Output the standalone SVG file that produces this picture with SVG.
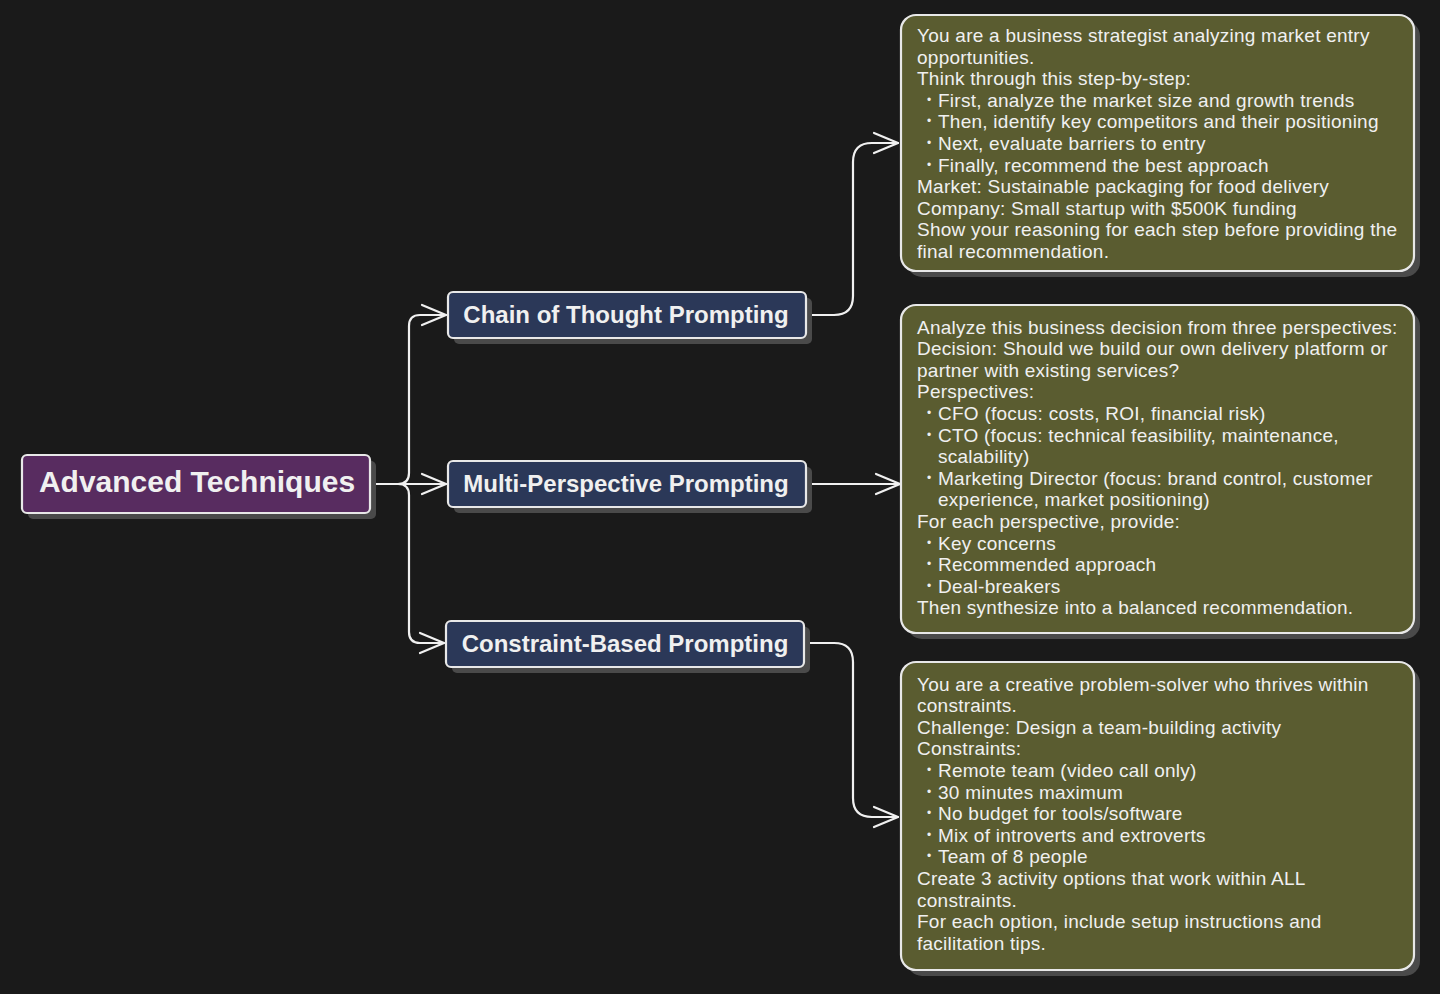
<svg xmlns="http://www.w3.org/2000/svg" width="1440" height="994" viewBox="0 0 1440 994">
<defs>
<marker id="arr" markerWidth="30" markerHeight="30" refX="26" refY="12" orient="auto" markerUnits="userSpaceOnUse">
<path d="M2,2 L26,12 L2,22" fill="none" stroke="#f0f0f0" stroke-width="2.2" stroke-linecap="round" stroke-linejoin="round"/>
</marker>
<style>
.bg{fill:#1a1a1a}
.sh{fill:#4a4a4a}
.root{fill:#582c60;stroke:#e8e8e8;stroke-width:2.2}
.br{fill:#2b3858;stroke:#e8e8e8;stroke-width:2.2}
.leaf{fill:#5a5c30;stroke:#e8e8e8;stroke-width:2.2}
.t{font-family:"Liberation Sans",Arial,sans-serif;fill:#f0f0f0}
.tr{font-size:30px;font-weight:bold;text-anchor:middle}
.tb{font-size:24px;font-weight:bold;text-anchor:middle}
.tl{font-size:19px;letter-spacing:0.25px}
.b{font-size:12px}
.c{fill:none;stroke:#f0f0f0;stroke-width:2.2;stroke-linecap:round}
</style>
</defs>
<rect class="bg" x="0" y="0" width="1440" height="994"/>
<g id="connectors">
<path class="c" d="M371,484 L398,484 Q409,484 409,473 L409,326 Q409,315 420,315 L446,315" marker-end="url(#arr)"/>
<path class="c" d="M371,484 L446,484" marker-end="url(#arr)"/>
<path class="c" d="M371,484 L398,484 Q409,484 409,495 L409,632 Q409,643 420,643 L444,643" marker-end="url(#arr)"/>
<path class="c" d="M808,315 L834,315 Q853,315 853,296 L853,162 Q853,143 872,143 L898,143" marker-end="url(#arr)"/>
<path class="c" d="M808,484 L900,484" marker-end="url(#arr)"/>
<path class="c" d="M806,643 L834,643 Q853,643 853,662 L853,798 Q853,817 872,817 L898,817" marker-end="url(#arr)"/>
</g>
<g id="root">
<rect class="sh" x="28" y="461" width="348" height="58" rx="5"/>
<rect class="root" x="22" y="455" width="348" height="58" rx="5"/>
<text class="t tr" x="197" y="492">Advanced Techniques</text>
</g>
<g id="chain">
<rect class="sh" x="454" y="298" width="358" height="46" rx="5"/>
<rect class="br" x="448" y="292" width="358" height="46" rx="5"/>
<text class="t tb" x="626" y="323">Chain of Thought Prompting</text>
</g>
<g id="multi">
<rect class="sh" x="454" y="467" width="358" height="46" rx="5"/>
<rect class="br" x="448" y="461" width="358" height="46" rx="5"/>
<text class="t tb" x="626" y="492">Multi-Perspective Prompting</text>
</g>
<g id="constraint">
<rect class="sh" x="452" y="627" width="358" height="46" rx="5"/>
<rect class="br" x="446" y="621" width="358" height="46" rx="5"/>
<text class="t tb" x="625" y="652">Constraint-Based Prompting</text>
</g>
<g id="leaf-chain">
<rect class="sh" x="907" y="21" width="513" height="256" rx="15"/>
<rect class="leaf" x="901" y="15" width="513" height="256" rx="15"/>
<text class="t tl">
<tspan x="917" y="42">You are a business strategist analyzing market entry</tspan>
<tspan x="917" y="63.6">opportunities.</tspan>
<tspan x="917" y="85.2">Think through this step-by-step:</tspan>
<tspan class="b" x="927" y="103.8">•</tspan><tspan x="938" y="106.8">First, analyze the market size and growth trends</tspan>
<tspan class="b" x="927" y="125.4">•</tspan><tspan x="938" y="128.4">Then, identify key competitors and their positioning</tspan>
<tspan class="b" x="927" y="147">•</tspan><tspan x="938" y="150">Next, evaluate barriers to entry</tspan>
<tspan class="b" x="927" y="168.6">•</tspan><tspan x="938" y="171.6">Finally, recommend the best approach</tspan>
<tspan x="917" y="193.2">Market: Sustainable packaging for food delivery</tspan>
<tspan x="917" y="214.8">Company: Small startup with $500K funding</tspan>
<tspan x="917" y="236.4">Show your reasoning for each step before providing the</tspan>
<tspan x="917" y="258">final recommendation.</tspan>
</text>
</g>
<g id="leaf-multi">
<rect class="sh" x="907" y="311" width="513" height="328" rx="15"/>
<rect class="leaf" x="901" y="305" width="513" height="328" rx="15"/>
<text class="t tl">
<tspan x="917" y="333.5">Analyze this business decision from three perspectives:</tspan>
<tspan x="917" y="355.1">Decision: Should we build our own delivery platform or</tspan>
<tspan x="917" y="376.7">partner with existing services?</tspan>
<tspan x="917" y="398.3">Perspectives:</tspan>
<tspan class="b" x="927" y="416.9">•</tspan><tspan x="938" y="419.9">CFO (focus: costs, ROI, financial risk)</tspan>
<tspan class="b" x="927" y="438.5">•</tspan><tspan x="938" y="441.5">CTO (focus: technical feasibility, maintenance,</tspan>
<tspan x="938" y="463.1">scalability)</tspan>
<tspan class="b" x="927" y="481.7">•</tspan><tspan x="938" y="484.7">Marketing Director (focus: brand control, customer</tspan>
<tspan x="938" y="506.3">experience, market positioning)</tspan>
<tspan x="917" y="527.9">For each perspective, provide:</tspan>
<tspan class="b" x="927" y="546.5">•</tspan><tspan x="938" y="549.5">Key concerns</tspan>
<tspan class="b" x="927" y="568.1">•</tspan><tspan x="938" y="571.1">Recommended approach</tspan>
<tspan class="b" x="927" y="589.7">•</tspan><tspan x="938" y="592.7">Deal-breakers</tspan>
<tspan x="917" y="614.3">Then synthesize into a balanced recommendation.</tspan>
</text>
</g>
<g id="leaf-constraint">
<rect class="sh" x="907" y="668" width="513" height="308" rx="15"/>
<rect class="leaf" x="901" y="662" width="513" height="308" rx="15"/>
<text class="t tl">
<tspan x="917" y="690.5">You are a creative problem-solver who thrives within</tspan>
<tspan x="917" y="712.1">constraints.</tspan>
<tspan x="917" y="733.7">Challenge: Design a team-building activity</tspan>
<tspan x="917" y="755.3">Constraints:</tspan>
<tspan class="b" x="927" y="773.9">•</tspan><tspan x="938" y="776.9">Remote team (video call only)</tspan>
<tspan class="b" x="927" y="795.5">•</tspan><tspan x="938" y="798.5">30 minutes maximum</tspan>
<tspan class="b" x="927" y="817.1">•</tspan><tspan x="938" y="820.1">No budget for tools/software</tspan>
<tspan class="b" x="927" y="838.7">•</tspan><tspan x="938" y="841.7">Mix of introverts and extroverts</tspan>
<tspan class="b" x="927" y="860.3">•</tspan><tspan x="938" y="863.3">Team of 8 people</tspan>
<tspan x="917" y="884.9">Create 3 activity options that work within ALL</tspan>
<tspan x="917" y="906.5">constraints.</tspan>
<tspan x="917" y="928.1">For each option, include setup instructions and</tspan>
<tspan x="917" y="949.7">facilitation tips.</tspan>
</text>
</g>
</svg>
